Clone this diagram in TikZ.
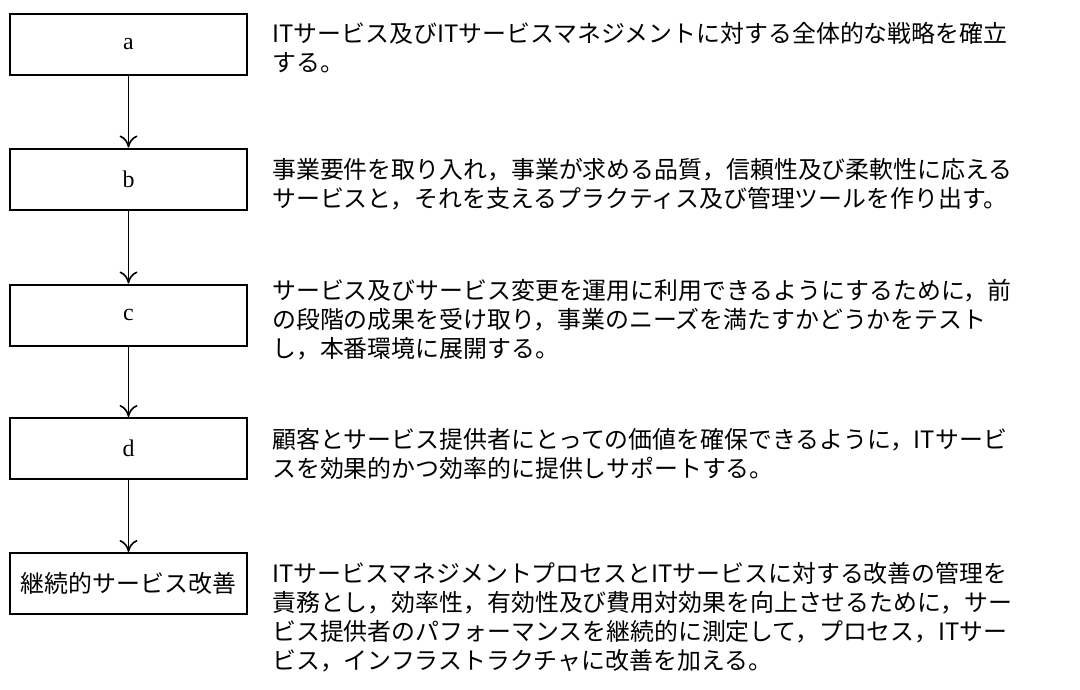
\documentclass[tikz,border=0pt]{standalone}
\usepackage{fontspec}
\setmainfont{Liberation Serif}
\newfontfamily\jpfont{Noto Sans CJK JP}
\usetikzlibrary{positioning,arrows.meta}

\begin{document}
\begin{tikzpicture}[
	phase/.style={draw, line width=0.5mm, minimum width=5.925cm, minimum height=1.525cm, font=\jpfont\fontsize{17}{20}\selectfont},
	desc/.style={anchor=north west, align=left, inner sep=0pt, font=\jpfont\fontsize{17}{20.6}\selectfont},
	flow/.style={-{To[length=3mm,width=4.5mm]}, line width=0.4mm}
]
	\useasboundingbox (0,0) rectangle (27,-17.225);

	\node[phase] at (3.2125,-1.1125) (a) {\rmfamily a};
	\node[phase] at (3.2125,-4.475) (b) {\rmfamily b};
	\node[phase] at (3.2125,-7.875) (c) {\rmfamily c};
	\node[phase] at (3.2125,-11.2125) (d) {\rmfamily d};
	\node[phase] at (3.2125,-14.5875) (e) {継続的サービス改善};

	\draw[flow] (a) -- (b);
	\draw[flow] (b) -- (c);
	\draw[flow] (c) -- (d);
	\draw[flow] (d) -- (e);

	\node[desc] at (6.8,-0.55) (ta) {ITサービス及びITサービスマネジメントに対する全体的な戦略を確立\\する。};
	\node[desc] at (6.8,-3.95) (tb) {事業要件を取り入れ，事業が求める品質，信頼性及び柔軟性に応える\\サービスと，それを支えるプラクティス及び管理ツールを作り出す。};
	\node[desc] at (6.8,-6.98) (tc) {サービス及びサービス変更を運用に利用できるようにするために，前\\の段階の成果を受け取り，事業のニーズを満たすかどうかをテスト\\し，本番環境に展開する。};
	\node[desc] at (6.8,-10.7) (td) {顧客とサービス提供者にとっての価値を確保できるように，ITサービ\\スを効果的かつ効率的に提供しサポートする。};
	\node[desc] at (6.8,-14.05) (te) {ITサービスマネジメントプロセスとITサービスに対する改善の管理を\\責務とし，効率性，有効性及び費用対効果を向上させるために，サー\\ビス提供者のパフォーマンスを継続的に測定して，プロセス，ITサー\\ビス，インフラストラクチャに改善を加える。};
\end{tikzpicture}
\end{document}
